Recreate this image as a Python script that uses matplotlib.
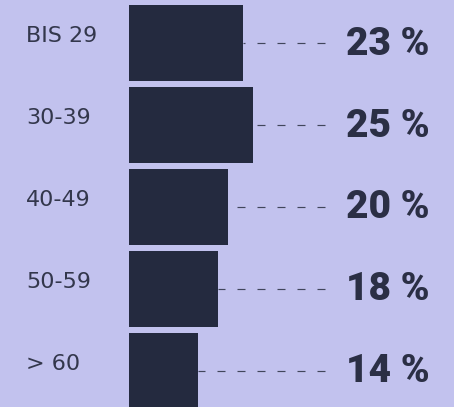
import matplotlib.pyplot as plt

# Daten: Altersgruppen und Anteile in Prozent
categories = ['BIS 29', '30-39', '40-49', '50-59', '> 60']
shares = [23, 25, 20, 18, 14]
value_labels = ['23 %', '25 %', '20 %', '18 %', '14 %']

bg_color = '#C2C2EE'
bar_color = '#242A3F'
text_color = '#2B2F45'

px = 4.95  # Pixel pro Prozentpunkt
fig = plt.figure(figsize=(4.54, 4.07), dpi=100, facecolor=bg_color)
ax = fig.add_axes([0, 0, 1, 1])
ax.set_facecolor(bg_color)

ax.set_xlim(-129 / px, (454 - 129) / px)
ax.set_ylim((407 - 42.5) / 82, -42.5 / 82)

y = list(range(len(categories)))

# gestrichelte Verbindungslinien (von rechts nach links, damit das Muster rechts beginnt)
for yi, v in zip(y, shares):
    ax.plot([(325 - 129) / px, v], [yi, yi], color='#41465C', lw=0.85,
            linestyle=(0, (8 * 0.72 / 0.85, 12 * 0.72 / 0.85)), zorder=1)

ax.barh(y, shares, height=76 / 82, left=0, color=bar_color, zorder=2)

for yi, cat, lab in zip(y, categories, value_labels):
    ax.text(-103 / px, yi - 7 / 82, cat, ha='left', va='center', fontsize=16,
            color='#33374C', family='DejaVu Sans')
    ax.text((346 - 129) / px, yi + 1.5 / 82, lab, ha='left', va='center', fontsize=28,
            fontweight='heavy', color=text_color, family='Roboto')

ax.axis('off')
fig.savefig('out.png', dpi=100, facecolor=bg_color)
